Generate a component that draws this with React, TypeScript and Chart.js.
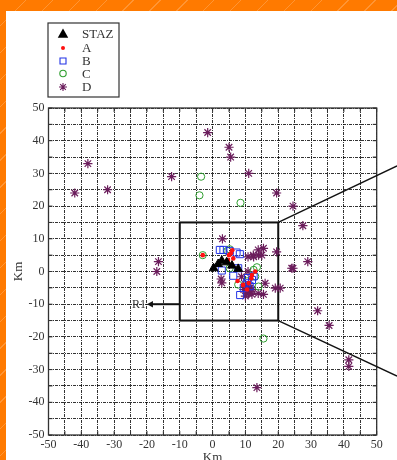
import React, { useEffect, useRef } from 'react';
import { Chart, registerables } from 'chart.js';

Chart.register(...registerables);

// ---- data ----
const stazX = [0.3, 1.7, 2.8, 4.3, 5.9, 7.8];
const stazY = [1, 2.3, 3.3, 2.8, 1.8, 0.8];

const aX = [-3, 4.7, 5.6, 6.3, 6.0, 5.0, 7.6, 9.3, 11.8, 12.0, 13.0, 10.5, 11.0];
const aY = [5, 3.5, 5.6, 4.0, 6.5, 5.0, -2.9, -4.1, -2.1, -1.1, 0, -5.5, -3.5];

const bX = [2.2, 3.3, 5.2, 7.3, 8.3, 7.8, 2.8, 6.3, 10.4, 12.0, 11.3, 12.5, 8.4, 9.5, 10.8];
const bY = [6.6, 6.6, 6.3, 5.8, 5.3, 1.0, 0.3, -1.3, -3.6, -2.6, -4.5, -1.5, -7.2, -5.0, -2.0];

const cX = [-3.5, -4, 8.5, -3, 5.2, 4.5, 5.2, 13.5, 13.0, 14.0, 7.8, 10.5, 15.5, 12.5];
const cY = [29, 23.3, 21, 5, 6.8, 6.3, 1.0, 1.3, -1.5, -4.6, -4.0, -3.0, -20.5, 0.5];

const dX = [
  -38, -42, -32, -12.5, -16.5, -17, -1.5, 5, 5.5, 11, 19.5, 24.5, 27.5, 29, 24.5, 19.5, 3,
  32, 35.5, 41.5, 41.5, 13.5, 19.1, 20.6, 16, 15.5,
  10.8, 12.5, 14, 15, 13.9, 15.5, 12.4, 10.8, 2.6, 2.8, 8.8, 10, 11, 11.5, 10.5, 11.4, 10.9,
  12, 9.5, 13.9, 12, 10, 24.1,
];
const dY = [
  33, 24, 25, 29, 3, 0, 42.5, 38, 35, 30, 24, 20, 14, 3, 1, 6, 10,
  -12, -16.5, -27, -29, -35.5, -5.1, -5.1, -3.6, -7,
  4.5, 4.5, 5, 5, 6.6, 7.1, 5, 0, -2.3, -3.5, -1.6, -4, -5, -6, -6.5, -5.1, -6.7,
  -7, -5.5, -6.7, -5.5, -7.5, 1,
];

const seriesLabels = ['STAZ', 'A', 'B', 'C', 'D'];

const axisMin = -50;
const axisMax = 50;
const gridStep = 5;
const labelStep = 10;
const axisTitle = 'Km';

// inset (zoom) box and callout lines
const boxX = [-10, 20];
const boxY = [-15, 15];
const calloutEndX = 56.2;
const calloutEndY = [32.3, -32];

// R1 arrow
const r1Y = -10;
const r1From = -10;
const r1To = -20;
const r1Label = 'R1';

const SERIF = "'Liberation Serif', 'Times New Roman', 'DejaVu Serif', serif";

const toPts = (xs: number[], ys: number[]) => xs.map((x, i) => ({ x, y: ys[i] }));

function drawMarker(ctx: CanvasRenderingContext2D, style: string, x: number, y: number, r: number, fill: string, stroke: string, lw: number) {
  ctx.save();
  ctx.lineWidth = lw;
  ctx.strokeStyle = stroke;
  ctx.fillStyle = fill;
  ctx.beginPath();
  if (style === 'triangle') {
    ctx.moveTo(x, y - r);
    ctx.lineTo(x + r * 0.95, y + r * 0.7);
    ctx.lineTo(x - r * 0.95, y + r * 0.7);
    ctx.closePath();
    ctx.fill();
  } else if (style === 'dot') {
    ctx.arc(x, y, r, 0, Math.PI * 2);
    ctx.fill();
  } else if (style === 'rect') {
    ctx.rect(x - r, y - r, 2 * r, 2 * r);
    ctx.stroke();
  } else if (style === 'circle') {
    ctx.arc(x, y, r, 0, Math.PI * 2);
    ctx.stroke();
  } else if (style === 'star') {
    for (let k = 0; k < 4; k++) {
      const ang = (k * Math.PI) / 4;
      ctx.moveTo(x - Math.cos(ang) * r, y - Math.sin(ang) * r);
      ctx.lineTo(x + Math.cos(ang) * r, y + Math.sin(ang) * r);
    }
    ctx.stroke();
  }
  ctx.restore();
}

const overlay = {
  id: 'overlay',
  beforeDatasetsDraw(chart: any) {
    const { ctx, scales } = chart;
    const xs = scales.x;
    const ys = scales.y;
    ctx.save();
    ctx.setLineDash([]);
    ctx.strokeStyle = '#111';
    ctx.lineWidth = 2;
    const bx0 = xs.getPixelForValue(boxX[0]);
    const bx1 = xs.getPixelForValue(boxX[1]);
    const by0 = ys.getPixelForValue(boxY[0]);
    const by1 = ys.getPixelForValue(boxY[1]);
    ctx.strokeRect(bx0, by1, bx1 - bx0, by0 - by1);
    ctx.restore();
  },
  afterDraw(chart: any) {
    const { ctx, chartArea: a, scales } = chart;
    const xs = scales.x;
    const ys = scales.y;
    ctx.save();
    ctx.setLineDash([]);
    // plot border
    ctx.strokeStyle = '#333';
    ctx.lineWidth = 1.3;
    ctx.strokeRect(a.left, a.top, a.right - a.left, a.bottom - a.top);
    // inner tick marks
    ctx.lineWidth = 1;
    ctx.beginPath();
    for (let v = axisMin; v <= axisMax; v += gridStep) {
      const px = xs.getPixelForValue(v);
      ctx.moveTo(px, a.bottom);
      ctx.lineTo(px, a.bottom - 4);
      ctx.moveTo(px, a.top);
      ctx.lineTo(px, a.top + 4);
      const py = ys.getPixelForValue(v);
      ctx.moveTo(a.left, py);
      ctx.lineTo(a.left + 4, py);
      ctx.moveTo(a.right, py);
      ctx.lineTo(a.right - 4, py);
    }
    ctx.stroke();

    // callout lines
    ctx.strokeStyle = '#111';
    ctx.lineWidth = 1.4;
    ctx.beginPath();
    ctx.moveTo(xs.getPixelForValue(boxX[1]), ys.getPixelForValue(boxY[1]));
    ctx.lineTo(xs.getPixelForValue(calloutEndX), ys.getPixelForValue(calloutEndY[0]));
    ctx.moveTo(xs.getPixelForValue(boxX[1]), ys.getPixelForValue(boxY[0]));
    ctx.lineTo(xs.getPixelForValue(calloutEndX), ys.getPixelForValue(calloutEndY[1]));
    ctx.stroke();

    // R1 arrow
    const ay = ys.getPixelForValue(r1Y);
    const ax0 = xs.getPixelForValue(r1From);
    const ax1 = xs.getPixelForValue(r1To);
    ctx.lineWidth = 2;
    ctx.beginPath();
    ctx.moveTo(ax0, ay);
    ctx.lineTo(ax1 + 4, ay);
    ctx.stroke();
    ctx.fillStyle = '#111';
    ctx.beginPath();
    ctx.moveTo(ax1, ay);
    ctx.lineTo(ax1 + 6, ay - 3.2);
    ctx.lineTo(ax1 + 6, ay + 3.2);
    ctx.closePath();
    ctx.fill();
    ctx.font = `12px ${SERIF}`;
    ctx.fillStyle = '#333';
    ctx.textAlign = 'right';
    ctx.textBaseline = 'middle';
    ctx.fillText(r1Label, ax1 - 1, ay + 1);

    // legend
    const lx = 42, ly = 12, lw = 71, lh = 74;
    ctx.fillStyle = '#fff';
    ctx.fillRect(lx, ly, lw, lh);
    ctx.strokeStyle = '#333';
    ctx.lineWidth = 1.2;
    ctx.strokeRect(lx, ly, lw, lh);
    const styles = ['triangle', 'dot', 'rect', 'circle', 'star'];
    const fills = ['#000', '#ff1010', 'transparent', 'transparent', 'transparent'];
    const strokes = ['#000', '#ff1010', '#2233e6', '#2e9e2e', '#6b1d5c'];
    const sizes = [5.5, 2, 3, 3.2, 4];
    const rowsY = [23, 37, 50, 62.5, 76];
    chart.data.datasets.forEach((ds: any, i: number) => {
      drawMarker(ctx, styles[i], lx + 15, rowsY[i], sizes[i], fills[i], strokes[i], 1.1);
      ctx.font = `13px ${SERIF}`;
      ctx.fillStyle = '#333';
      ctx.textAlign = 'left';
      ctx.textBaseline = 'middle';
      ctx.fillText(ds.label, lx + 34, rowsY[i] + 1);
    });
    ctx.restore();
  },
};

export default function App() {
  const ref = useRef<HTMLCanvasElement | null>(null);
  useEffect(() => {
    if (!ref.current) return;
    const tickFont = { family: SERIF, size: 12 };
    const grid = {
      color: 'rgba(0,0,0,0.8)',
      lineWidth: 1,
      drawTicks: false,
    };
    const border = { display: false, dash: [3, 1, 1, 1] };
    const chart = new Chart(ref.current, {
      type: 'scatter',
      data: {
        datasets: [
          {
            label: seriesLabels[0],
            data: toPts(stazX, stazY),
            pointStyle: 'triangle',
            pointRadius: 5,
            backgroundColor: '#000',
            borderColor: '#000',
            borderWidth: 1,
          },
          {
            label: seriesLabels[1],
            data: toPts(aX, aY),
            pointStyle: 'circle',
            pointRadius: 2.3,
            backgroundColor: '#ff1010',
            borderColor: '#ff1010',
            borderWidth: 0,
          },
          {
            label: seriesLabels[2],
            data: toPts(bX, bY),
            pointStyle: 'rect',
            pointRadius: 5,
            backgroundColor: 'rgba(0,0,0,0)',
            borderColor: '#2233e6',
            borderWidth: 1,
          },
          {
            label: seriesLabels[3],
            data: toPts(cX, cY),
            pointStyle: 'circle',
            pointRadius: 3.6,
            backgroundColor: 'rgba(0,0,0,0)',
            borderColor: '#2e9e2e',
            borderWidth: 1,
          },
          {
            label: seriesLabels[4],
            data: toPts(dX, dY),
            pointStyle: 'star',
            pointRadius: 4.6,
            backgroundColor: '#6b1d5c',
            borderColor: '#6b1d5c',
            borderWidth: 1.2,
          },
        ],
      },
      options: {
        responsive: false,
        animation: false,
        events: [],
        layout: { padding: { left: 0, top: 97, right: 20.3, bottom: 0 } },
        plugins: { legend: { display: false }, tooltip: { enabled: false } },
        scales: {
          x: {
            type: 'linear',
            min: axisMin,
            max: axisMax,
            afterFit: (s: any) => { s.height = 25; },
            border,
            grid,
            ticks: {
              stepSize: gridStep,
              autoSkip: false,
              maxRotation: 0,
              padding: 3,
              color: '#333',
              font: tickFont,
              callback: (v: any) => (Number(v) % labelStep === 0 ? String(v) : ''),
            },
            title: {
              display: true,
              text: axisTitle,
              color: '#333',
              font: { family: SERIF, size: 13 },
              padding: { top: 0, bottom: -5.3 },
            },
          },
          y: {
            type: 'linear',
            min: axisMin,
            max: axisMax,
            afterFit: (s: any) => { s.width = 42.5; },
            border,
            grid,
            ticks: {
              stepSize: gridStep,
              autoSkip: false,
              padding: 4,
              color: '#333',
              font: tickFont,
              callback: (v: any) => (Number(v) % labelStep === 0 ? String(v) : ''),
            },
            title: {
              display: true,
              text: axisTitle,
              color: '#333',
              font: { family: SERIF, size: 13 },
              padding: { top: 4.5, bottom: 0 },
            },
          },
        },
      } as any,
      plugins: [overlay],
    });
    return () => chart.destroy();
  }, []);

  return (
    <div
      style={{
        position: 'fixed',
        left: 0,
        top: 0,
        width: 397,
        height: 460,
        overflow: 'hidden',
        backgroundColor: '#ff7a00',
        backgroundImage:
          'repeating-linear-gradient(135deg, rgba(255,255,255,0) 0px, rgba(255,255,255,0) 18px, rgba(255,200,150,0.35) 18px, rgba(255,200,150,0.35) 19px)',
      }}
    >
      <div style={{ position: 'absolute', left: 6, top: 11, width: 391, height: 449, background: '#fff' }}>
        <canvas ref={ref} width={391} height={449} style={{ width: 391, height: 449, display: 'block' }} />
      </div>
    </div>
  );
}
